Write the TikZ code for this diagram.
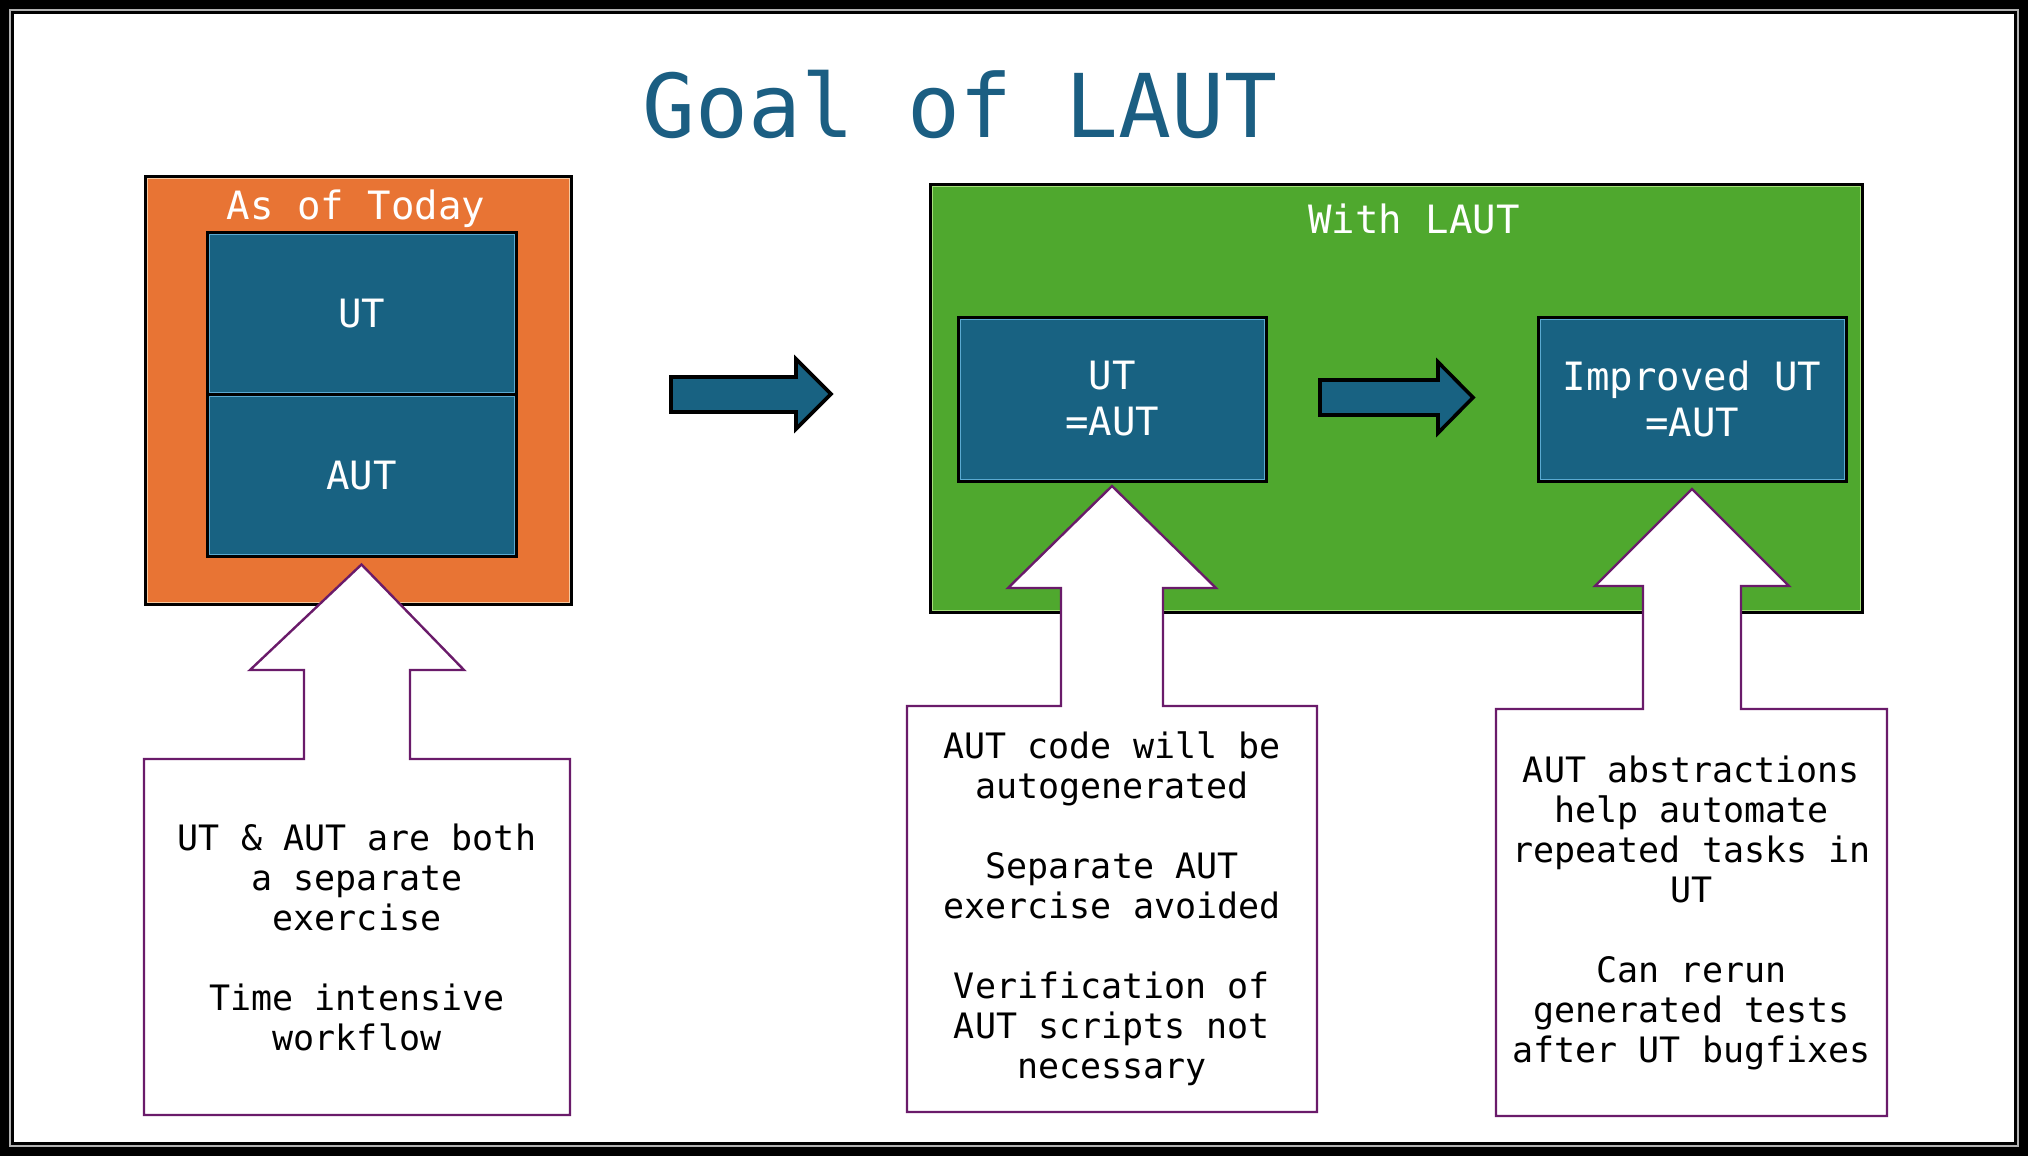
\documentclass[tikz,border=0pt]{standalone}
\usepackage{fontspec}
\setmainfont{DejaVu Sans Mono}
\usetikzlibrary{calc}
\definecolor{orangebox}{HTML}{E87434}
\definecolor{orangelight}{HTML}{F6C9A0}
\definecolor{bluebox}{HTML}{186282}
\definecolor{bluelight}{HTML}{5AAAD2}
\definecolor{greenbox}{HTML}{4FA82E}
\definecolor{greenlight}{HTML}{A6E07A}
\definecolor{titleblue}{HTML}{1B5E82}
\definecolor{calloutpurple}{HTML}{6A1B6A}
\newcommand\innerframe[2]{\draw[#2, line width=0.5pt] ($(#1.north west)+(2,2)$) rectangle ($(#1.south east)+(-2,-2)$);}
\begin{document}
\begin{tikzpicture}[x=0.5pt,y=-0.5pt,
  panel/.style={draw=black, line width=1.5pt, inner sep=0pt, outer sep=0pt},
  bluebx/.style={panel, fill=bluebox, text=white, font=\fontsize{19.5}{23}\selectfont, align=center},
  hdr/.style={text=white, font=\fontsize{19.5}{23}\selectfont, anchor=base, inner sep=0pt},
  calltext/.style={inner sep=0pt, align=center, font=\fontsize{17.5}{20}\selectfont, text=black},
  callout/.style={draw=calloutpurple, line width=1.2pt, fill=white, line join=miter},
  blockarrow/.style={draw=black, line width=1.8pt, fill=bluebox, line join=miter}
]
% frame
\fill[black] (0,0) rectangle (2028,1156);
\fill[gray!60] (9,9) rectangle (2019,1147);
\fill[black] (11,11) rectangle (2017,1145);
\fill[white] (14,14) rectangle (2014,1142);
\useasboundingbox (0,0) rectangle (2028,1156);

% title
\node[anchor=base, text=titleblue, font=\fontsize{44}{50}\selectfont, inner sep=0pt] (title) at (960,138) {Goal of LAUT};

% As of today panel
\node[panel, fill=orangebox, minimum width=213pt, minimum height=214pt] (today) at (358,390) {};
\innerframe{today}{orangelight}
\node[hdr] (todayhdr) at (356,219) {As of Today};
\node[bluebx, minimum width=154.5pt, minimum height=81pt] (ut1) at (361.5,313.5) {UT};
\innerframe{ut1}{bluelight}
\node[bluebx, minimum width=154.5pt, minimum height=81pt] (aut1) at (361.5,475.5) {AUT};
\innerframe{aut1}{bluelight}

% With LAUT panel
\node[panel, fill=greenbox, minimum width=466pt, minimum height=214pt] (laut) at (1396,398) {};
\innerframe{laut}{greenlight}
\node[hdr] (lauthdr) at (1414,233) {With LAUT};
\node[bluebx, minimum width=154pt, minimum height=82pt] (ut2) at (1112,399) {UT\\=AUT};
\innerframe{ut2}{bluelight}
\node[bluebx, minimum width=154pt, minimum height=82pt] (imp) at (1692,399) {Improved UT\\=AUT};
\innerframe{imp}{bluelight}

% block arrows
\draw[blockarrow] (671,377) -- (796,377) -- (796,359) -- (831,394) -- (796,429) -- (796,412) -- (671,412) -- cycle;
\draw[blockarrow] (1320,380) -- (1438,380) -- (1438,362) -- (1473,397.5) -- (1438,433) -- (1438,415) -- (1320,415) -- cycle;

% callouts
\draw[callout] (144,759) -- (304,759) -- (304,670) -- (250,670) -- ($(aut1.south)+(0,8)$) -- (464,670) -- (410,670) -- (410,759) -- (570,759) -- (570,1115) -- (144,1115) -- cycle;
\draw[callout] (907,706) -- (1061,706) -- (1061,588) -- (1008,588) -- ($(ut2.south)+(0,5)$) -- (1216,588) -- (1163,588) -- (1163,706) -- (1317,706) -- (1317,1112) -- (907,1112) -- cycle;
\draw[callout] (1496,709) -- (1643,709) -- (1643,586) -- (1595,586) -- ($(imp.south)+(0,8)$) -- (1789,586) -- (1741,586) -- (1741,709) -- (1887,709) -- (1887,1116) -- (1496,1116) -- cycle;

\node[calltext] (c1) at (357,937) {UT \& AUT are both\\a separate\\exercise\\[20pt]Time intensive\\workflow};
\node[calltext] (c2) at (1112,909) {AUT code will be\\autogenerated\\[20pt]Separate AUT\\exercise avoided\\[20pt]Verification of\\AUT scripts not\\necessary};
\node[calltext] (c3) at (1691.5,912.5) {AUT abstractions\\help automate\\repeated tasks in\\UT\\[20pt]Can rerun\\generated tests\\after UT bugfixes};
\end{tikzpicture}
\end{document}
